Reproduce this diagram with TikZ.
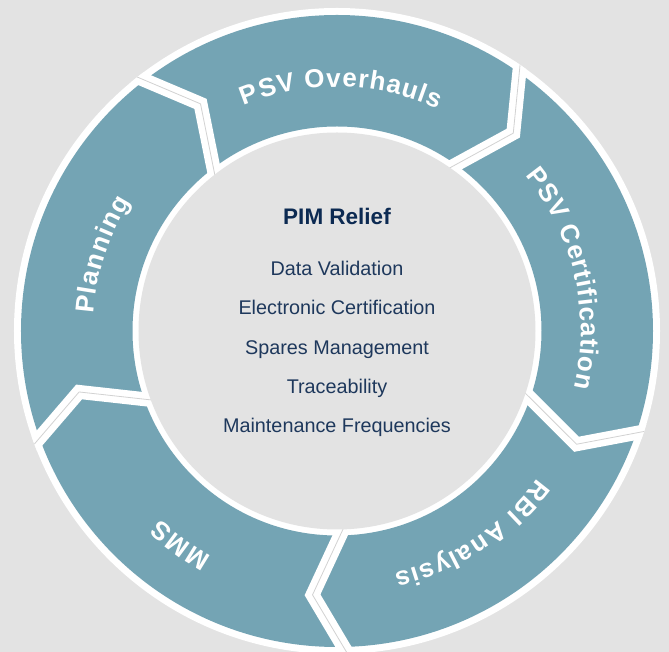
\documentclass[tikz,border=0pt]{standalone}
\usepackage{fontspec}
\setmainfont{Liberation Sans}
\usetikzlibrary{decorations.text}
\definecolor{colBack}{RGB}{227,227,227}
\definecolor{colRing}{RGB}{116,164,180}
\definecolor{colGap}{RGB}{210,210,210}
\definecolor{colTitle}{RGB}{12,42,82}
\definecolor{colItem}{RGB}{30,56,92}
\newcommand{\seglabel}{\fontsize{26}{30}\selectfont\bfseries}
\tikzstyle{title}=[anchor=base, inner sep=0pt, text=colTitle, font=\fontsize{22.5}{26}\selectfont\bfseries]
\tikzstyle{item}=[anchor=base, inner sep=0pt, text=colItem, font=\fontsize{19.8}{24}\selectfont]
\tikzstyle{cut}=[line width=14pt, white, line join=miter]
\tikzstyle{cutline}=[line width=0.8pt, colGap]
\tikzset{arclabel/.style={decorate, decoration={text along path, text color=white,
      text align={fit to path}, text={|\seglabel|#1}}}}

\begin{document}
\begin{tikzpicture}[x=1pt, y=1pt]
	% origin sits in the centre of the ring
	\fill[colBack] (-337,-321) rectangle (332,331);
	\useasboundingbox (-337,-321) rectangle (332,331);

	%%% Ring
	\fill[white] (0,0) circle[radius=323pt];
	\fill[colRing, even odd rule] (0,0) circle[radius=316pt] (0,0) circle[radius=204.5pt];

	%%% Cuts between the arrows
	\begin{scope}
		\clip (0,0) circle[radius=323pt];
		\draw[cut] (129.3:335pt) -- (121.0:265pt) -- (129.3:190pt);
		\draw[cut] (56.6:335pt)  -- (48.3:265pt)  -- (56.6:190pt);
		\draw[cut] (-17.0:335pt) -- (-25.3:265pt) -- (-17.0:190pt);
		\draw[cut] (-87.0:335pt) -- (-95.3:265pt) -- (-87.0:190pt);
		\draw[cut] (-158.4:335pt) -- (-166.7:265pt) -- (-158.4:190pt);
		% thin line in the middle of each cut
		\draw[cutline] (129.3:335pt) -- (121.0:265pt) -- (129.3:190pt);
		\draw[cutline] (56.6:335pt)  -- (48.3:265pt)  -- (56.6:190pt);
		\draw[cutline] (-17.0:335pt) -- (-25.3:265pt) -- (-17.0:190pt);
		\draw[cutline] (-87.0:335pt) -- (-95.3:265pt) -- (-87.0:190pt);
		\draw[cutline] (-158.4:335pt) -- (-166.7:265pt) -- (-158.4:190pt);
	\end{scope}

	%%% Centre
	\fill[colBack] (0,0) circle[radius=198.5pt];

	%%% Arrow labels
	\path[arclabel=PSV Overhauls] (112.4:244pt) arc[start angle=112.4, end angle=65.6, radius=244pt];
	\path[arclabel=PSV Certification] (39.5:244pt) arc[start angle=39.5, end angle=-13.5, radius=244pt];
	\path[arclabel=RBI Analysis] (-36.3:249pt) arc[start angle=-36.3, end angle=-76.7, radius=249pt];
	\path[arclabel=MMS] (-119.2:258pt) arc[start angle=-119.2, end angle=-133.2, radius=258pt];
	\path[arclabel=Planning] (176.0:244pt) arc[start angle=176.0, end angle=147.9, radius=244pt];

	%%% Centre text
	\node[title] (pim)      at (0,106)  {PIM Relief};
	\node[item]  (dataval)  at (0,55)   {Data Validation};
	\node[item]  (ecert)    at (0,16)   {Electronic Certification};
	\node[item]  (spares)   at (0,-24)  {Spares Management};
	\node[item]  (trace)    at (0,-63)  {Traceability};
	\node[item]  (maint)    at (0,-102) {Maintenance Frequencies};
\end{tikzpicture}
\end{document}
